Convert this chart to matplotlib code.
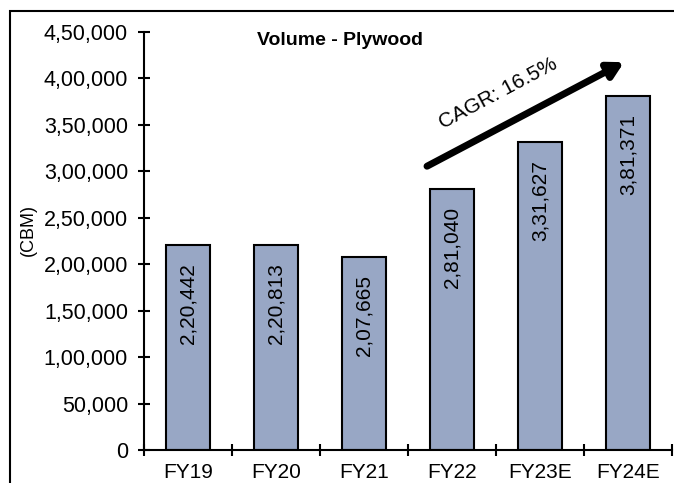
import matplotlib
matplotlib.use('Agg')
import matplotlib.pyplot as plt
from matplotlib.patches import Rectangle
from matplotlib.ticker import FuncFormatter, FixedLocator
import numpy as np

plt.rcParams['font.family'] = ['Liberation Sans', 'DejaVu Sans']

# Plywood volumes in CBM
years = ['FY19', 'FY20', 'FY21', 'FY22', 'FY23E', 'FY24E']
volume = [220442, 220813, 207665, 281040, 331627, 381371]
cagr_label = 'CAGR: 16.5%'


def indian_fmt(v, pos=None):
    # lakh-style grouping: 4,50,000
    s = str(int(round(v)))
    if len(s) <= 3:
        return s
    head, tail = s[:-3], s[-3:]
    parts = []
    while len(head) > 2:
        parts.insert(0, head[-2:])
        head = head[:-2]
    if head:
        parts.insert(0, head)
    return ','.join(parts) + ',' + tail


fig = plt.figure(figsize=(6.74, 4.83), dpi=100)
ax = fig.add_axes([144 / 674, 1 - 450 / 483, 528 / 674, 418 / 483])

x = np.arange(len(years))
bars = ax.bar(x, volume, width=0.5, color='#98a7c5', edgecolor='black', linewidth=1.5, zorder=2)

for xi, v in zip(x, volume):
    ax.annotate(indian_fmt(v), (xi, v), xytext=(0, -13), textcoords='offset points',
                rotation=90, ha='center', va='top', fontsize=15)

ax.set_xlim(-0.5, len(years) - 0.5)
ax.set_ylim(0, 450000)
ax.set_yticks(np.arange(0, 450001, 50000))
ax.yaxis.set_major_formatter(FuncFormatter(indian_fmt))

# ticks sit between the categories, labels under the bars
ax.xaxis.set_major_locator(FixedLocator(np.arange(-0.5, len(years), 1.0)))
ax.xaxis.set_major_formatter(FuncFormatter(lambda v, p: ''))
ax.xaxis.set_minor_locator(FixedLocator(x))
ax.set_xticklabels(years, minor=True)

ax.tick_params(axis='both', which='major', direction='inout', length=9, width=1.5, labelsize=15.5)
ax.tick_params(axis='y', pad=7)
ax.tick_params(axis='x', which='minor', length=0, pad=9, labelsize=15)

for side in ['top', 'right']:
    ax.spines[side].set_visible(False)
ax.spines['left'].set_linewidth(1.5)
ax.spines['bottom'].set_linewidth(1.5)

ax.set_ylabel('(CBM)', fontsize=13)
ax.yaxis.set_label_coords(-0.203, 0.526)

fig.text(0.505, 0.917, 'Volume - Plywood', ha='center', va='center', fontsize=14, fontweight='bold')

# growth arrow with CAGR note
ax.annotate('', xy=(4.955, 417500), xytext=(2.716, 305500),
            arrowprops=dict(arrowstyle='-|>,head_length=0.9,head_width=0.5', color='black', lw=5,
                            shrinkA=0, shrinkB=0))
ax.text(3.53, 384000, cagr_label, rotation=28, ha='center', va='center', fontsize=15)

# outer border
fig.patches.append(Rectangle((10 / 674, -0.1), 1.2, 1.1 - 11 / 483, transform=fig.transFigure,
                             fill=False, edgecolor='black', linewidth=1.5, zorder=0))

fig.savefig('out.png', dpi=100)
